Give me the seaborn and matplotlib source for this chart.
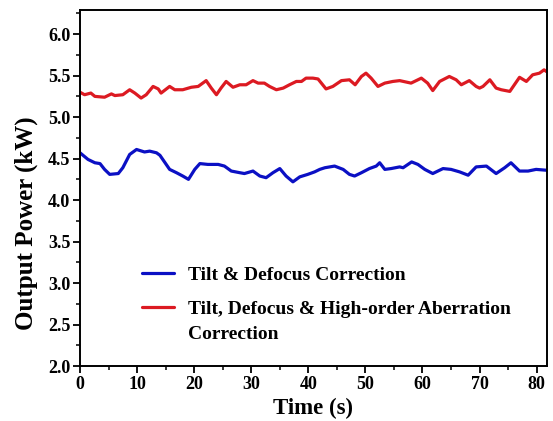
import matplotlib
matplotlib.use("Agg")
import matplotlib.pyplot as plt
from matplotlib.ticker import MultipleLocator
import seaborn as sns
import pandas as pd

# ---- data ----
blue_label = "Tilt & Defocus Correction"
red_label = "Tilt, Defocus & High-order Aberration"
red_label_cont = "Correction"

blue_t = [0.0, 1.4, 2.6, 3.5, 4.3, 5.2, 6.7, 7.5, 8.7, 9.9,
          11.3, 12.2, 13.4, 14.0, 14.6, 15.7, 16.9, 18.0, 19.0, 20.1,
          21.0, 22.4, 24.2, 25.3, 26.5, 28.0, 28.8, 30.3, 31.5, 32.6,
          33.8, 35.0, 36.1, 37.3, 38.5, 39.9, 41.1, 42.0, 42.9, 44.6,
          46.1, 47.2, 48.1, 49.3, 50.7, 51.9, 52.5, 53.4, 54.5, 56.0,
          56.6, 58.1, 59.2, 60.4, 61.8, 63.6, 65.0, 66.5, 68.0, 69.4,
          71.2, 72.9, 74.4, 75.5, 77.0, 78.5, 79.9, 81.7]
blue_v = [4.57, 4.49, 4.45, 4.44, 4.37, 4.31, 4.32, 4.39, 4.55, 4.61,
          4.58, 4.59, 4.57, 4.54, 4.48, 4.37, 4.33, 4.29, 4.25, 4.37,
          4.44, 4.43, 4.43, 4.41, 4.35, 4.33, 4.32, 4.35, 4.29, 4.27,
          4.33, 4.38, 4.29, 4.22, 4.28, 4.31, 4.34, 4.37, 4.39, 4.41,
          4.37, 4.31, 4.29, 4.33, 4.38, 4.41, 4.45, 4.37, 4.38, 4.40,
          4.39, 4.46, 4.43, 4.37, 4.32, 4.38, 4.37, 4.34, 4.30, 4.40,
          4.41, 4.32, 4.39, 4.45, 4.35, 4.35, 4.37, 4.36]

red_t = [0.0, 0.8, 1.9, 2.6, 4.3, 5.5, 6.1, 7.5, 8.7, 9.6,
         10.7, 11.6, 12.8, 13.7, 14.2, 15.7, 16.6, 18.0, 19.5, 20.7,
         22.1, 23.0, 23.9, 24.7, 25.6, 26.8, 28.0, 29.1, 30.3, 31.2,
         32.3, 33.2, 34.4, 35.6, 36.7, 37.9, 38.8, 39.6, 40.8, 41.7,
         43.1, 44.3, 45.8, 47.2, 48.2, 49.3, 50.1, 51.0, 52.2, 53.4,
         54.8, 56.0, 58.0, 59.8, 60.9, 61.8, 63.0, 64.7, 65.9, 66.8,
         68.2, 69.4, 70.0, 70.6, 71.8, 72.9, 73.8, 75.3, 77.0, 78.2,
         79.3, 80.5, 81.3, 81.7]
red_v = [5.30, 5.27, 5.29, 5.25, 5.24, 5.28, 5.26, 5.27, 5.33, 5.29,
         5.23, 5.27, 5.37, 5.34, 5.29, 5.37, 5.33, 5.33, 5.36, 5.37,
         5.44, 5.35, 5.27, 5.35, 5.43, 5.36, 5.39, 5.39, 5.44, 5.41,
         5.41, 5.37, 5.33, 5.35, 5.39, 5.43, 5.43, 5.47, 5.47, 5.46,
         5.34, 5.37, 5.44, 5.45, 5.39, 5.49, 5.53, 5.47, 5.37, 5.41,
         5.43, 5.44, 5.41, 5.47, 5.41, 5.32, 5.43, 5.49, 5.45, 5.39,
         5.44, 5.37, 5.35, 5.37, 5.45, 5.35, 5.33, 5.31, 5.48, 5.43,
         5.51, 5.53, 5.57, 5.55]

x_ticks = [0, 10, 20, 30, 40, 50, 60, 70, 80]
y_ticks = [2.0, 2.5, 3.0, 3.5, 4.0, 4.5, 5.0, 5.5, 6.0]

df = pd.concat([
    pd.DataFrame({"t": blue_t, "v": blue_v, "series": blue_label}),
    pd.DataFrame({"t": red_t, "v": red_v, "series": red_label}),
], ignore_index=True)

# ---- style ----
sns.set_theme(style="ticks")
plt.rcParams["font.family"] = ["Liberation Serif", "DejaVu Serif"]
plt.rcParams["font.weight"] = "bold"
plt.rcParams["axes.labelweight"] = "bold"
for k in ["text.color", "axes.labelcolor", "xtick.color", "ytick.color",
          "axes.edgecolor"]:
    plt.rcParams[k] = "black"

fig = plt.figure(figsize=(5.53, 4.21), dpi=100)
ax = fig.add_axes([0.1447, 0.1306, 0.8443, 0.8454])

palette = {blue_label: "#0b10c4", red_label: "#dc1a22"}
sns.lineplot(data=df, x="t", y="v", hue="series", palette=palette,
             estimator=None, sort=True, linewidth=2.3, ax=ax)
for ln in ax.get_lines():
    ln.set_solid_joinstyle("round")
    ln.set_solid_capstyle("round")

ax.set_xlim(0, 81.8)
ax.set_ylim(2.0, 6.29)
ax.set_xticks(x_ticks)
ax.set_yticks(y_ticks)
ax.set_xticklabels([str(v) for v in x_ticks])
ax.set_yticklabels([f"{v:.1f}" for v in y_ticks])
ax.xaxis.set_minor_locator(MultipleLocator(5))
ax.yaxis.set_minor_locator(MultipleLocator(0.25))
ax.tick_params(axis="both", which="major", direction="out", length=5, width=1.3,
               labelsize=13, colors="black", pad=2)
ax.tick_params(axis="both", which="minor", direction="out", length=3, width=1.1)
ax.tick_params(top=False, right=False, which="both")
for s in ax.spines.values():
    s.set_visible(True)
    s.set_linewidth(1.4)
    s.set_color("black")

ax.set_xlabel("Time (s)", fontsize=16.5, fontweight="bold", labelpad=4)
ax.set_ylabel("Output Power (kW)", fontsize=18, fontweight="bold")
ax.yaxis.set_label_coords(-0.089, 0.40)

handles, labels = ax.get_legend_handles_labels()
leg = ax.legend(handles, labels, loc="upper left", bbox_to_anchor=(0.132, 0.281),
                frameon=False, handlelength=1.65, handletextpad=0.75,
                labelspacing=0.86, borderpad=0, borderaxespad=0,
                prop={"weight": "bold", "size": 14})

fig.canvas.draw()
txt = leg.get_texts()[1]
bb = txt.get_window_extent(renderer=fig.canvas.get_renderer())
inv = fig.transFigure.inverted()
x0, y0 = inv.transform((bb.x0, bb.y0))
fig.text(x0, y0 - 0.020, red_label_cont, fontsize=14, fontweight="bold",
         ha="left", va="top")

fig.savefig("out.png", dpi=100)
